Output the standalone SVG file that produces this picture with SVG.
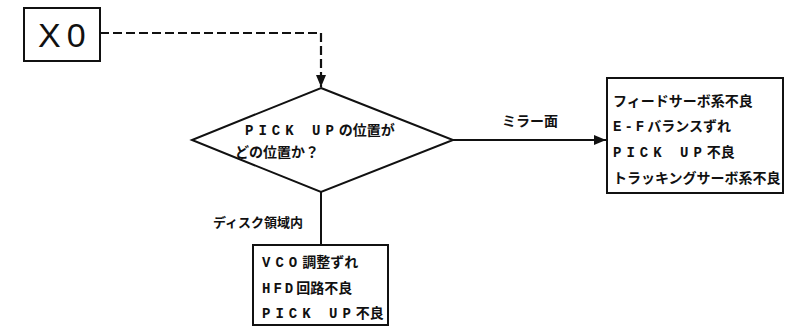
<svg xmlns="http://www.w3.org/2000/svg" width="785" height="327" viewBox="0 0 785 327">
<style>
.box{fill:#fff;stroke:#111;stroke-width:2}
.ln{fill:none;stroke:#111;stroke-width:2}
.dash{fill:none;stroke:#111;stroke-width:2.2;stroke-dasharray:9 4}
.t{font-family:"Noto Sans CJK JP","Noto Sans",sans-serif;font-size:14px;font-weight:bold;fill:#111}
.m{font-family:"Liberation Mono",monospace;font-weight:bold;letter-spacing:5px}
.x0{font-family:"Liberation Sans",sans-serif;font-size:34px;fill:#111;letter-spacing:6px}
</style>
<defs>
<marker id="ah" markerWidth="12" markerHeight="10" refX="12" refY="5" orient="auto" markerUnits="userSpaceOnUse">
<path d="M0,0 L12,5 L0,10 Z" fill="#111"/>
</marker>
</defs>
<g id="connectors">
<path class="dash" d="M100,33 H321 V87" marker-end="url(#ah)"/>
<path class="ln" d="M453,140 H606" marker-end="url(#ah)"/>
<text class="t" x="502" y="126" font-size="13">ミラー面</text>
<path class="ln" d="M321,192 V245"/>
<text class="t" x="213" y="227" style="font-size:13px">ディスク領域内</text>
</g>
<g id="x0">
<rect class="box" x="24" y="8" width="76" height="53"/>
<text class="x0" x="38" y="47">X0</text>
</g>
<g id="decision">
<path class="box" d="M321,88 L453,140 L321,192 L192,140 Z"/>
<text class="t" x="245" y="135"><tspan class="m">PICK UP</tspan>の位置が</text>
<text class="t" x="235" y="157">どの位置か？</text>
</g>
<g id="mirror-causes">
<rect class="box" x="607" y="78" width="176" height="115"/>
<text class="t" x="613" y="106">フィードサーボ系不良</text>
<text class="t" x="613" y="131"><tspan class="m" style="letter-spacing:3px">E-F</tspan>バランスずれ</text>
<text class="t" x="613" y="157"><tspan class="m">PICK UP</tspan>不良</text>
<text class="t" x="613" y="183">トラッキングサーボ系不良</text>
</g>
<g id="disc-causes">
<rect class="box" x="253" y="245" width="135" height="80"/>
<text class="t" x="262" y="267"><tspan class="m">VCO</tspan>調整ずれ</text>
<text class="t" x="262" y="293"><tspan class="m" style="letter-spacing:3px">HFD</tspan>回路不良</text>
<text class="t" x="262" y="318"><tspan class="m">PICK UP</tspan>不良</text>
</g>
</svg>
